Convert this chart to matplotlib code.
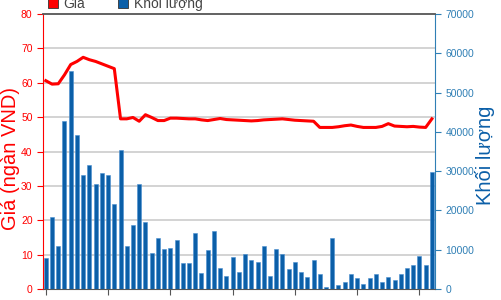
import numpy as np
import matplotlib
matplotlib.use("Agg")
import matplotlib.pyplot as plt
from matplotlib.patches import Patch

plt.rcParams["font.family"] = ["Liberation Sans", "DejaVu Sans"]

# Giá (ngàn VND) theo phiên
gia = [60.6, 59.6, 59.7, 62.3, 65.3, 66.2, 67.4, 66.7, 66.2, 65.5,
       64.8, 64.1, 49.5, 49.5, 49.9, 48.8, 50.7, 49.9, 49.0, 49.0,
       49.7, 49.7, 49.6, 49.5, 49.5, 49.2, 49.0, 49.3, 49.6, 49.3,
       49.2, 49.1, 49.0, 48.9, 49.0, 49.2, 49.3, 49.4, 49.5, 49.3,
       49.1, 49.0, 48.9, 48.8, 47.0, 47.0, 47.0, 47.2, 47.5, 47.7,
       47.3, 47.0, 47.0, 47.0, 47.3, 48.1, 47.4, 47.3, 47.2, 47.3,
       47.1, 47.0, 49.5]

# Khối lượng khớp lệnh
khoi_luong = [8000, 18300, 11000, 42700, 55400, 39200, 29000, 31600, 26800, 29600,
              29000, 21600, 35400, 11000, 16200, 26700, 17100, 9100, 13100, 10300,
              10500, 12600, 6500, 6500, 14200, 4000, 10000, 14800, 5400, 3200,
              8200, 4300, 8800, 7300, 7000, 10900, 3300, 10300, 8900, 5000,
              6800, 4300, 3000, 7300, 3800, 600, 13100, 1100, 1900, 3700,
              2800, 1400, 2800, 3900, 1900, 3100, 2200, 3900, 5300, 6200,
              8400, 6200, 29750]

ngay = ["26/04/2018", "11/05/2018", "25/05/2018", "08/06/2018",
        "22/06/2018", "06/07/2018", "20/07/2018"]

x = np.arange(len(khoi_luong))

red = "#ff0000"
blue_bar = "#0b5fa8"
blue_ax = "#2f7fb5"

fig = plt.figure(figsize=(5.01, 3.0), dpi=100)
ax = fig.add_axes([43 / 501, 11 / 300, 392 / 501, 275 / 300])
ax2 = ax.twinx()

# cột khối lượng (trục phải), đường giá (trục trái) nằm trên
ax2.bar(x, khoi_luong, width=0.64, color=blue_bar, edgecolor="#4a8fd0", linewidth=0.4)
ax2.set_ylim(0, 70000)
ax2.set_yticks(np.arange(0, 70001, 10000))

ax.set_zorder(ax2.get_zorder() + 1)
ax.patch.set_visible(False)
ax.plot(x, gia, color=red, linewidth=2.2)
ax.set_ylim(0, 80)
ax.set_yticks(np.arange(0, 81, 10))
ax.set_xlim(-0.45, len(khoi_luong) - 0.5)
ax.set_xticks(x[::10])
ax.set_xticklabels(ngay, fontsize=7.5, color="#333333")

# lưới ngang theo trục giá, vẽ dưới cột
for g in np.arange(10, 80, 10):
    ax2.axhline(g * 70000 / 80, color="#cccccc", linewidth=1.2, zorder=0)

ax.tick_params(axis="y", colors=red, labelsize=7.5, length=4)
ax.tick_params(axis="x", length=4, color="#555555", pad=4)
ax2.tick_params(axis="y", colors=blue_ax, labelsize=7.5, length=4)

ax.spines["left"].set_color(red)
ax.spines["right"].set_visible(False)
ax.spines["top"].set_color("#555555")
ax.spines["top"].set_linewidth(1.3)
ax.spines["bottom"].set_color("#555555")
ax2.spines["left"].set_visible(False)
ax2.spines["top"].set_visible(False)
ax2.spines["right"].set_color(blue_ax)
ax2.spines["bottom"].set_visible(False)

ax.set_ylabel("Giá (ngàn VND)", color=red, fontsize=14.5)
ax.yaxis.set_label_coords(-0.058, 0.473)
ax2.set_ylabel("Khối lượng", color=blue_bar, fontsize=14.5)
ax2.yaxis.set_label_coords(1.103, 0.487)

handles = [Patch(facecolor=red, edgecolor="#333333", linewidth=0.6),
           Patch(facecolor=blue_bar, edgecolor="#333333", linewidth=0.6)]
fig.legend(handles, ["Giá", "Khối lượng"], loc="lower left",
           bbox_to_anchor=(48 / 501, 289 / 300), ncol=2, frameon=False,
           fontsize=10, handlelength=0.7, handleheight=0.7, borderpad=0,
           borderaxespad=0, handletextpad=0.4, columnspacing=2.4,
           labelcolor="#444444")

fig.savefig("out.png", dpi=100)
